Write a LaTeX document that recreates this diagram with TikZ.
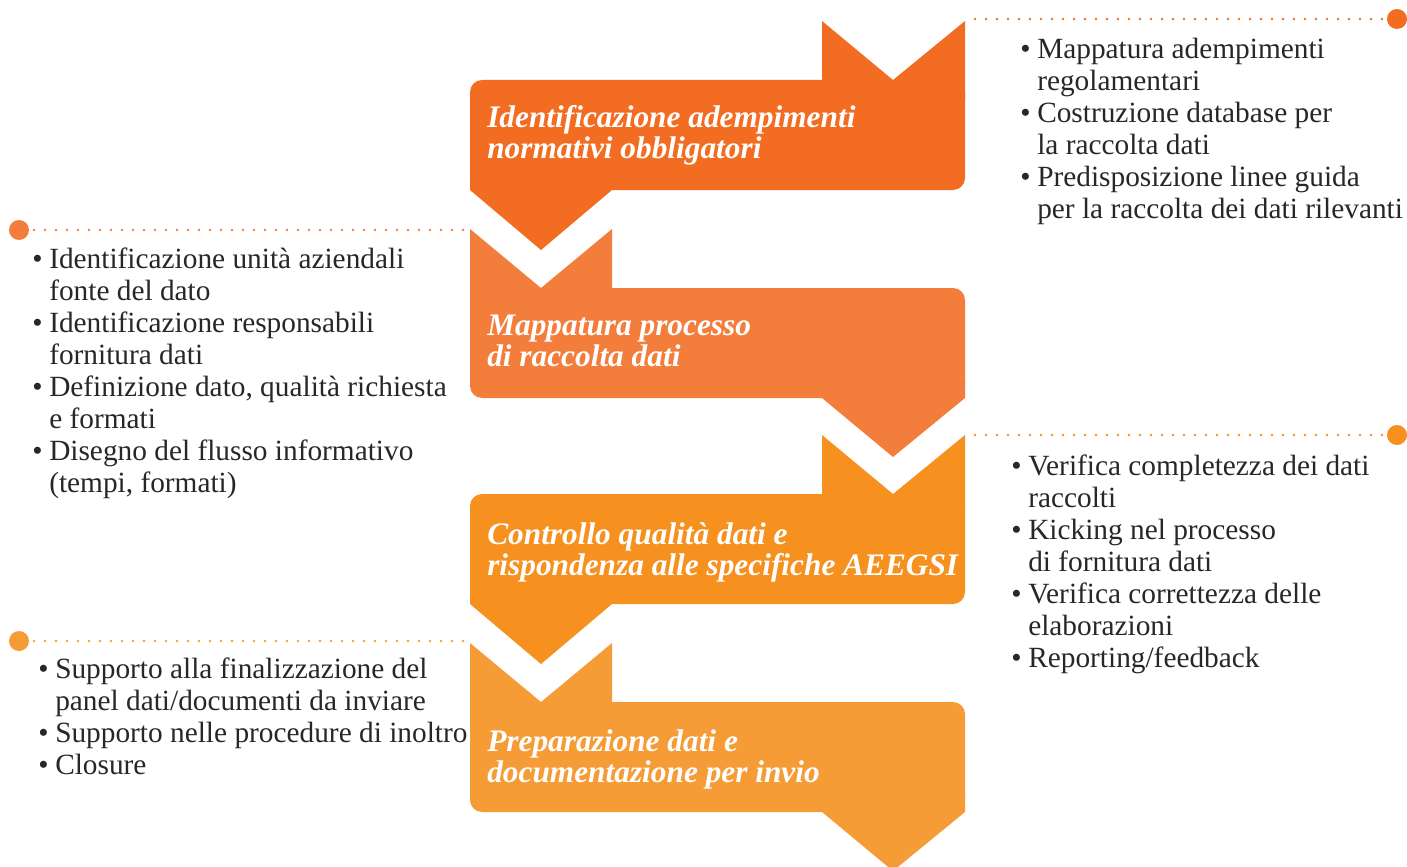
\documentclass[tikz,border=0pt]{standalone}
\usepackage{fontspec}
\setmainfont{Liberation Serif}
\definecolor{cA}{HTML}{F26C22}
\definecolor{cB}{HTML}{F37D3B}
\definecolor{cC}{HTML}{F6901E}
\definecolor{cD}{HTML}{F69C36}
\definecolor{txt}{HTML}{2A2626}
\newcommand{\bulitem}{\makebox[12.75pt][l]{\textbullet}}
\newcommand{\contitem}{\hspace*{12.75pt}}
\tikzset{
  titletext/.style={anchor=base west, inner sep=0pt, align=left, text=white,
    font=\bfseries\itshape\fontsize{23.5}{23.25}\selectfont},
  listtext/.style={anchor=base west, inner sep=0pt, align=left, text=txt,
    font=\fontsize{22}{24}\selectfont},
  dotline/.style={line width=2.2pt, line cap=round, dash pattern=on 0pt off 8.25pt},
  bigdot/.style={radius=7.5pt},
}
\begin{document}
\begin{tikzpicture}[x=0.75pt,y=-0.75pt]
\useasboundingbox (0,0) rectangle (1407,867);
\clip (0,0) rectangle (1407,867);
% ---- block 1
\fill[cA, rounded corners=9pt] (470,80) rectangle (965,190);
\fill[cA] (822,100) -- (822,21) -- (893,80) -- (965,21) -- (965,100) -- cycle;
\fill[cA] (470,170) -- (470,190) -- (541,250) -- (612,190) -- (612,170) -- cycle;
% ---- block 2
\fill[cB, rounded corners=9pt] (470,288) rectangle (965,398);
\fill[cB] (470,300) -- (470,229) -- (541,288) -- (612,229) -- (612,300) -- cycle;
\fill[cB] (822,380) -- (822,398) -- (893,457) -- (965,398) -- (965,380) -- cycle;
% ---- block 3
\fill[cC, rounded corners=9pt] (470,494) rectangle (965,604);
\fill[cC] (822,510) -- (822,435) -- (893,494) -- (965,435) -- (965,510) -- cycle;
\fill[cC] (470,585) -- (470,604) -- (541,664) -- (612,604) -- (612,585) -- cycle;
% ---- block 4
\fill[cD, rounded corners=9pt] (470,702) rectangle (965,812);
\fill[cD] (470,715) -- (470,643) -- (541,702) -- (612,643) -- (612,715) -- cycle;
\fill[cD] (822,795) -- (822,812) -- (893,871) -- (965,812) -- (965,795) -- cycle;
% ---- titles (anchored at the baseline of the last line)
\node[titletext] (t1) at (487,158) {Identificazione adempimenti\\normativi obbligatori};
\node[titletext] (t2) at (487,366) {Mappatura processo\\di raccolta dati};
\node[titletext] (t3) at (487,575) {Controllo qualità dati e\\rispondenza alle specifiche AEEGSI};
\node[titletext] (t4) at (487,782) {Preparazione dati e\\documentazione per invio};
% ---- dotted leaders
\coordinate (s1) at (975,19);   \coordinate (d1) at (1397,19);
\coordinate (s2) at (463,230);  \coordinate (d2) at (19,230);
\coordinate (s3) at (975,435);  \coordinate (d3) at (1397,435);
\coordinate (s4) at (463,641);  \coordinate (d4) at (19,641);
\draw[cA, dotline] (s1) -- (d1); \fill[cA] (d1) circle[bigdot];
\draw[cB, dotline] (s2) -- (d2); \fill[cB] (d2) circle[bigdot];
\draw[cC, dotline] (s3) -- (d3); \fill[cC] (d3) circle[bigdot];
\draw[cD, dotline] (s4) -- (d4); \fill[cD] (d4) circle[bigdot];
% ---- lists (anchored at the baseline of the last line)
\node[listtext] (l1) at (1020,218) {\bulitem Mappatura adempimenti\\\contitem regolamentari\\\bulitem Costruzione database per\\\contitem la raccolta dati\\\bulitem Predisposizione linee guida\\\contitem per la raccolta dei dati rilevanti};
\node[listtext] (l2) at (32,492) {\bulitem Identificazione unità aziendali\\\contitem fonte del dato\\\bulitem Identificazione responsabili\\\contitem fornitura dati\\\bulitem Definizione dato, qualità richiesta\\\contitem e formati\\\bulitem Disegno del flusso informativo\\\contitem (tempi, formati)};
\node[listtext] (l3) at (1011,667) {\bulitem Verifica completezza dei dati\\\contitem raccolti\\\bulitem Kicking nel processo\\\contitem di fornitura dati\\\bulitem Verifica correttezza delle\\\contitem elaborazioni\\\bulitem Reporting/feedback};
\node[listtext] (l4) at (38,774) {\bulitem Supporto alla finalizzazione del\\\contitem panel dati/documenti da inviare\\\bulitem Supporto nelle procedure di inoltro\\\bulitem Closure};
\end{tikzpicture}
\end{document}
